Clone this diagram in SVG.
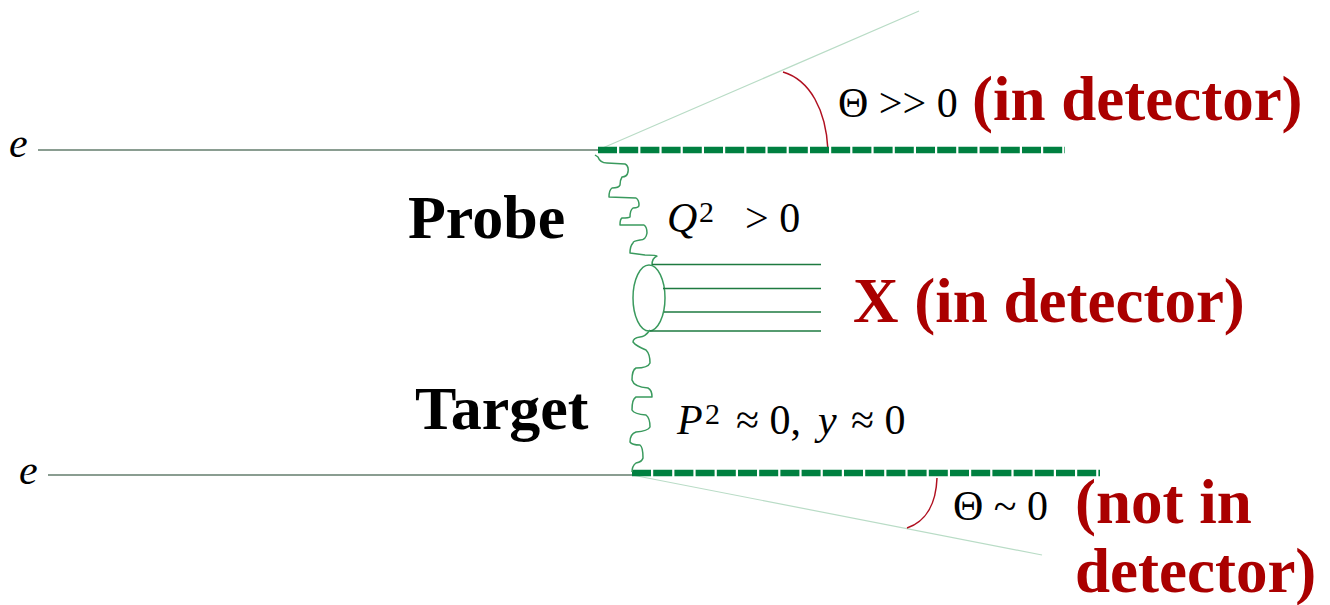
<svg xmlns="http://www.w3.org/2000/svg" width="1330" height="605" viewBox="0 0 1330 605">
<style>
.serif{font-family:"Liberation Serif","Times New Roman",serif;fill:#000}
.it{font-style:italic}
.math{font-size:42px}
.big{font-size:62px;font-weight:bold}
.red{fill:#aa0000;font-size:63px;font-weight:bold;font-family:"Liberation Serif","Times New Roman",serif}
.beam{stroke:#173d25;stroke-width:1.2;fill:none}
.det{stroke:#008040;stroke-width:6.5;stroke-dasharray:19 2.2;fill:none}
.cone{stroke:#b9dcc6;stroke-width:1.2;fill:none}
.arc{stroke:#b01020;stroke-width:1.5;fill:none}
.wig{stroke:#3a9a5e;stroke-width:1.5;fill:none;stroke-linejoin:round}
.jet{stroke:#1e7a40;stroke-width:1.6;fill:none}
</style>
<rect width="1330" height="605" fill="#fff"/>
<g id="connectors">
<line class="beam" x1="38" y1="150" x2="598" y2="150"/>
<line class="beam" x1="48" y1="475" x2="632" y2="475"/>
<line class="cone" x1="598" y1="150" x2="919" y2="11"/>
<line class="cone" x1="632" y1="475" x2="1042" y2="555"/>
<path class="arc" d="M783,72 C810,80 826,110 828,150"/>
<path class="arc" d="M937,478 C936,505 925,522 907,528"/>
<line class="det" x1="598" y1="150" x2="1065" y2="150"/>
<line class="det" x1="632" y1="473" x2="1100" y2="473"/>
<path class="wig" d="M595,155 L598,157 Q600,163 607,163 L625,164 Q629,166 628,172 Q627,177 622,177 Q620,180 620,185 Q619,188 612,188 Q609,190 609,197 L636,198 Q639,200 639,205 Q639,208 633,208 Q630,210 630,217 Q629,218 622,218 Q620,219 620,225 L644,225 Q647,227 647,233 Q646,240 640,240 Q633,241 633,243 Q630,246 630,253 L645,255 Q657,255 657,256 Q652,258 652,265"/>
<path class="wig" d="M650,330 Q645,337 640,337 Q633,338 633,342 Q636,346 646,350 Q650,354 650,363 Q648,368 636,368 Q632,370 632,380 Q634,387 648,388 Q652,390 652,397 L636,397 Q632,399 632,410 Q634,414 646,415 Q650,418 650,427 Q648,431 636,432 Q630,434 630,442 Q632,445 640,445 Q643,447 643,458 Q642,462 636,463 Q632,466 632,472"/>
</g>
<g id="hadrons">
<ellipse cx="649" cy="298" rx="16" ry="33" fill="none" stroke="#3a9a5e" stroke-width="1.5"/>
<line class="jet" x1="652" y1="264.5" x2="821" y2="264.5"/>
<line class="jet" x1="663" y1="288.5" x2="821" y2="288.5"/>
<line class="jet" x1="664" y1="312" x2="821" y2="312"/>
<line class="jet" x1="650" y1="331" x2="821" y2="331"/>
</g>
<g id="e-top"><text class="serif it math" x="9" y="157">e</text></g>
<g id="e-bottom"><text class="serif it math" x="19" y="484">e</text></g>
<g id="probe"><text class="serif big" x="408" y="238">Probe</text></g>
<g id="target"><text class="serif big" x="415" y="429">Target</text></g>
<g id="q2"><text class="serif math" x="667" y="232"><tspan class="it">Q</tspan><tspan font-size="30" x="699" y="222">2</tspan><tspan x="745" y="232">&gt; 0</tspan></text></g>
<g id="p2"><text class="serif math" x="677" y="434"><tspan class="it">P</tspan><tspan font-size="30" x="705" y="424">2</tspan><tspan x="736" y="434">≈ 0,</tspan><tspan class="it" x="818">y</tspan><tspan x="851">≈ 0</tspan></text></g>
<g id="theta-top"><text class="serif math" x="838" y="117">Θ &gt;&gt; 0</text><text class="red" x="972" y="120">(in detector)</text></g>
<g id="x-label"><text class="red" x="853" y="322">X (in detector)</text></g>
<g id="theta-bottom"><text class="serif math" x="953" y="520">Θ ~ 0</text><text class="red" x="1075" y="523">(not in</text><text class="red" x="1075" y="592">detector)</text></g>
</svg>
